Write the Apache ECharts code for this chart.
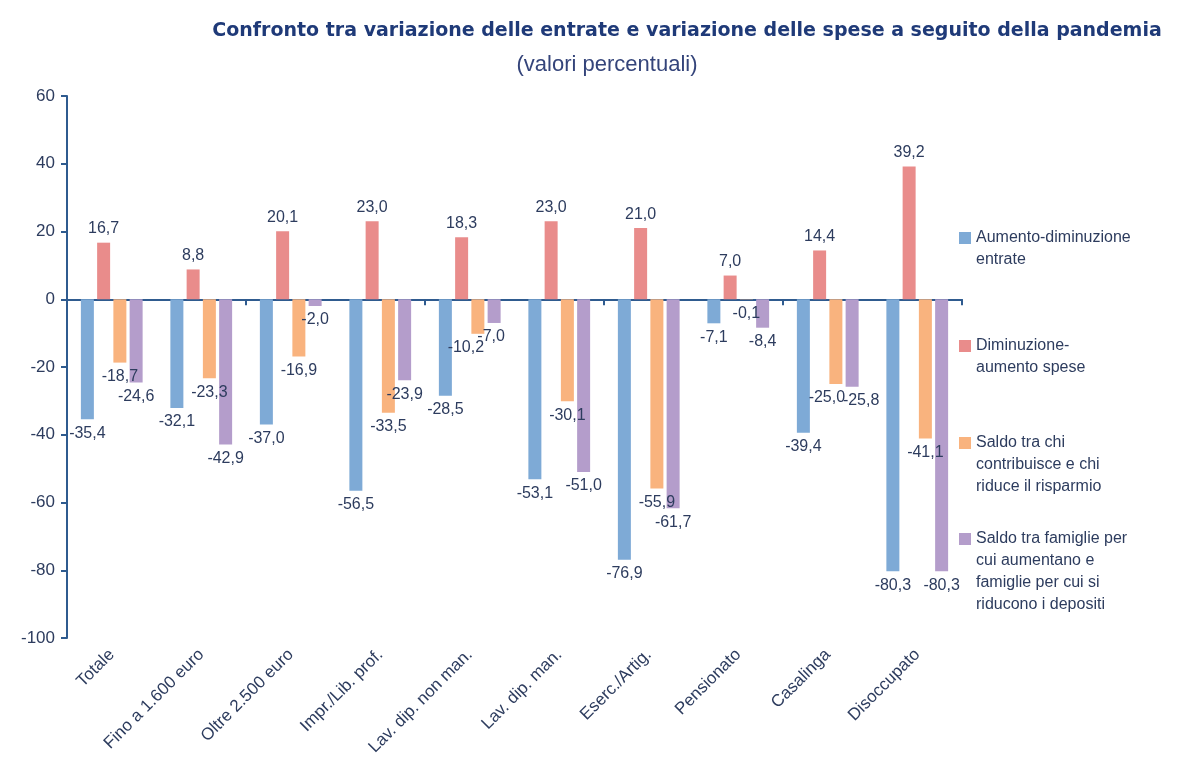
<!DOCTYPE html>
<html>
<head>
<meta charset="utf-8">
<script src="https://cdn.jsdelivr.net/npm/echarts@6/dist/echarts.min.js"></script>
<style>
html, body { margin: 0; padding: 0; background: #fff; }
#chart { width: 1199px; height: 771px; }
</style>
</head>
<body>
<div id="chart"></div>
<script>
var categories = ['Totale', 'Fino a 1.600 euro', 'Oltre 2.500 euro', 'Impr./Lib. prof.', 'Lav. dip. non man.',
    'Lav. dip. man.', 'Eserc./Artig.', 'Pensionato', 'Casalinga', 'Disoccupato'];
var entrate = [-35.4, -32.1, -37.0, -56.5, -28.5, -53.1, -76.9, -7.1, -39.4, -80.3];
var spese = [16.7, 8.8, 20.1, 23.0, 18.3, 23.0, 21.0, 7.0, 14.4, 39.2];
var risparmio = [-18.7, -23.3, -16.9, -33.5, -10.2, -30.1, -55.9, -0.1, -25.0, -41.1];
var depositi = [-24.6, -42.9, -2.0, -23.9, -7.0, -51.0, -61.7, -8.4, -25.8, -80.3];
var names = ['Aumento-diminuzione\nentrate', 'Diminuzione-\naumento spese',
    'Saldo tra chi\ncontribuisce e chi\nriduce il risparmio',
    'Saldo tra famiglie per\ncui aumentano e\nfamiglie per cui si\nriducono i depositi'];
var colors = ['#7eaad6', '#e98c8b', '#f9b37e', '#b49dcb'];

var FONT = '"Liberation Sans", Arial, sans-serif';
var TXT = '#2d3c5e';
var LINE_H = 22;

// labels nudged sideways where they would collide (series-index : dx)
var labelShift = { '2-4': -12, '3-4': -3, '2-8': -9, '3-8': 9 };

function makeSerie(idx, data, color) {
    return {
        name: names[idx],
        type: 'bar',
        barWidth: 13,
        barGap: '25%',
        itemStyle: { color: color },
        data: data.map(function (v, i) {
            var dx = labelShift[idx + '-' + i] || 0;
            return { value: v, label: { position: v < 0 ? 'bottom' : 'top', offset: [dx, 0] } };
        }),
        label: {
            show: true,
            distance: 6,
            color: TXT,
            fontFamily: FONT,
            fontSize: 16,
            formatter: function (p) { return p.value.toFixed(1).replace('.', ','); }
        }
    };
}

function makeLegend(i, top) {
    var lines = names[i].split('\n').length;
    var h = lines * LINE_H;
    // square sits on the first text line, the rest of the path only stretches the box
    var icon = 'path://M0,5H12V17H0Z M0,0L0.01,0 M0,' + h + 'L0.01,' + h;
    return {
        orient: 'vertical',
        left: 954,
        top: top,
        data: [{ name: names[i], icon: icon }],
        itemWidth: 12,
        itemHeight: h,
        itemGap: 0,
        selectedMode: false,
        textStyle: { color: TXT, fontFamily: FONT, fontSize: 16, lineHeight: LINE_H }
    };
}

var chart = echarts.init(document.getElementById('chart'));
chart.setOption({
    animation: false,
    title: [{
        text: 'Confronto tra variazione delle entrate e variazione delle spese a seguito della pandemia',
        left: 682,
        textAlign: 'center',
        top: 17,
        textStyle: { color: '#1f3a78', fontFamily: 'DejaVu Sans', fontWeight: 'bold', fontSize: 19 }
    }, {
        text: '(valori percentuali)',
        left: 602,
        textAlign: 'center',
        top: 49,
        textStyle: { color: '#34447a', fontFamily: FONT, fontWeight: 'normal', fontSize: 22 }
    }],
    legend: [makeLegend(0, 222), makeLegend(1, 330), makeLegend(2, 427), makeLegend(3, 523)],
    grid: { left: 67, right: 237, top: 96, bottom: 133 },
    xAxis: [{
        type: 'category',
        data: categories,
        axisLine: { onZero: true, lineStyle: { color: '#2f5b8f', width: 2 } },
        axisTick: { show: true, length: 6, inside: false, lineStyle: { color: '#2f5b8f', width: 2 } },
        axisLabel: { show: false }
    }, {
        type: 'category',
        data: categories,
        position: 'bottom',
        axisLine: { show: false, onZero: false },
        axisTick: { show: false },
        axisLabel: {
            rotate: 45,
            margin: 14,
            color: TXT,
            fontFamily: FONT,
            fontSize: 17,
            interval: 0
        }
    }],
    yAxis: {
        type: 'value',
        min: -100,
        max: 60,
        interval: 20,
        splitLine: { show: false },
        axisLine: { show: true, lineStyle: { color: '#2f5b8f', width: 2 } },
        axisTick: { show: true, length: 6, lineStyle: { color: '#2f5b8f', width: 2 } },
        axisLabel: { color: TXT, fontFamily: FONT, fontSize: 17, margin: 12 }
    },
    series: [
        makeSerie(0, entrate, colors[0]),
        makeSerie(1, spese, colors[1]),
        makeSerie(2, risparmio, colors[2]),
        makeSerie(3, depositi, colors[3])
    ]
});
</script>
</body>
</html>
